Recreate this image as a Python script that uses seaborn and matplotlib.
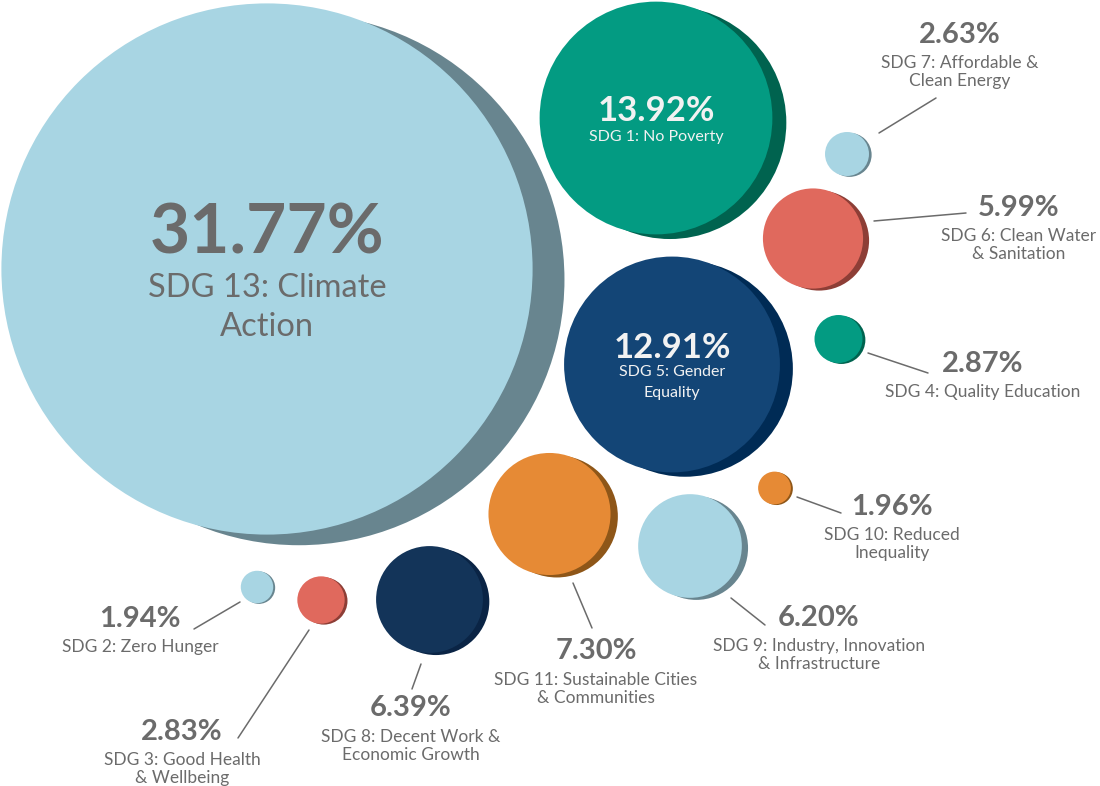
import numpy as np
import pandas as pd
import seaborn as sns
import matplotlib.pyplot as plt

# share of projects by goal
goals = ["SDG 13", "SDG 1", "SDG 5", "SDG 7", "SDG 6", "SDG 4",
         "SDG 10", "SDG 9", "SDG 11", "SDG 8", "SDG 3", "SDG 2"]
names = ["SDG 13: Climate\nAction", "SDG 1: No Poverty", "SDG 5: Gender\nEquality",
         "SDG 7: Affordable &\nClean Energy", "SDG 6: Clean Water\n& Sanitation",
         "SDG 4: Quality Education", "SDG 10: Reduced\nInequality",
         "SDG 9: Industry, Innovation\n& Infrastructure",
         "SDG 11: Sustainable Cities\n& Communities",
         "SDG 8: Decent Work &\nEconomic Growth",
         "SDG 3: Good Health\n& Wellbeing", "SDG 2: Zero Hunger"]
shares = [31.77, 13.92, 12.91, 2.63, 5.99, 2.87, 1.96, 6.20, 7.30, 6.39, 2.83, 1.94]

# colours
main_colors = ["#A8D5E3", "#039B82", "#134576", "#A8D5E3", "#E0695D", "#039B82",
               "#E68A35", "#A8D5E3", "#E68A35", "#133459", "#E0695D", "#A8D5E3"]
shade_colors = ["#68858F", "#00634F", "#002B55", "#68858F", "#8D3E36", "#00634F",
                "#8E5618", "#68858F", "#8E5618", "#0A2445", "#8D3E36", "#68858F"]

# packed layout (pixel space), bubble centres
cx = [267, 656, 672, 847, 813, 838.5, 774.5, 690, 549.5, 429.5, 321, 257]
cy = [269, 118, 364.5, 154, 238.5, 339, 488, 546, 514, 599.5, 600, 587]

# outside labels: percent centre, first label line, leader start/end
lab_x = [None, None, None, 960, 1019, 983, 892, 819, 596, 411, 182, 140]
pct_y = [None, None, None, 35, 208, 364, 507, 618, 651, 708, 732, 619]
txt_y = [None, None, None, 63, 236, 392, 535, 646, 680, 737, 760, 647]
lead_x0 = [None, None, None, 879, 874, 868, 797, 731, 573, 421, 309, 240]
lead_y0 = [None, None, None, 133, 221, 353, 497, 598, 583, 664, 630, 602]
lead_x1 = [None, None, None, 936, 966, 928, 841, 765, 592, 412, 238, 194]
lead_y1 = [None, None, None, 98, 213, 373, 513, 625, 628, 689, 738, 629]

W, H, DPI = 1100, 786, 100
PX_PER_PCT = 8.36
GREY = "#6B6B6B"

sns.set_theme(style="white")
plt.rcParams['font.family'] = ['Lato', 'DejaVu Sans']

df = pd.DataFrame({"goal": goals, "share": shares, "cx": cx, "cy": cy})
df["r"] = df["share"] * PX_PER_PCT
df["sx"] = df["cx"] + 0.12 * df["r"]
df["sy"] = df["cy"] + 0.04 * df["r"]
# marker area in pt^2 from diameter in px
sizes = {g: (2 * r * 72 / DPI) ** 2 for g, r in zip(df["goal"], df["r"])}

fig = plt.figure(figsize=(W / DPI, H / DPI), dpi=DPI)
ax = fig.add_axes([0, 0, 1, 1])

sns.scatterplot(data=df, x="sx", y="sy", hue="goal", size="goal", sizes=sizes,
                palette=dict(zip(goals, shade_colors)), linewidth=0,
                legend=False, ax=ax, zorder=1)
sns.scatterplot(data=df, x="cx", y="cy", hue="goal", size="goal", sizes=sizes,
                palette=dict(zip(goals, main_colors)), linewidth=0,
                legend=False, ax=ax, zorder=2)

# labels inside the three big bubbles
inside = {0: dict(col=GREY, pct=50, lab=23.5, dy_pct=-35, dy_lab=19, step=39),
          1: dict(col="#F2F2F2", pct=25, lab=11.5, dy_pct=-7, dy_lab=19, step=20),
          2: dict(col="#F2F2F2", pct=25, lab=11.5, dy_pct=-17, dy_lab=8, step=20)}
for i, o in inside.items():
    ax.text(cx[i], cy[i] + o["dy_pct"], f"{shares[i]:.2f}%", color=o["col"],
            fontsize=o["pct"], fontweight="bold", ha="center", va="center", zorder=3)
    for k, line in enumerate(names[i].split("\n")):
        ax.text(cx[i], cy[i] + o["dy_lab"] + k * o["step"], line, color=o["col"],
                fontsize=o["lab"], ha="center", va="center", zorder=3)

# outside labels with leader lines
for i in range(3, len(goals)):
    ax.plot([lead_x0[i], lead_x1[i]], [lead_y0[i], lead_y1[i]], color=GREY,
            lw=1.1, zorder=3)
    ax.text(lab_x[i], pct_y[i], f"{shares[i]:.2f}%", color=GREY, fontsize=21,
            fontweight="bold", ha="center", va="center", zorder=3)
    for k, line in enumerate(names[i].split("\n")):
        ax.text(lab_x[i], txt_y[i] + k * 18, line, color=GREY, fontsize=12.5,
                ha="center", va="center", zorder=3)

ax.set_xlim(0, W)
ax.set_ylim(H, 0)
ax.axis("off")
fig.savefig("out.png", dpi=DPI)
